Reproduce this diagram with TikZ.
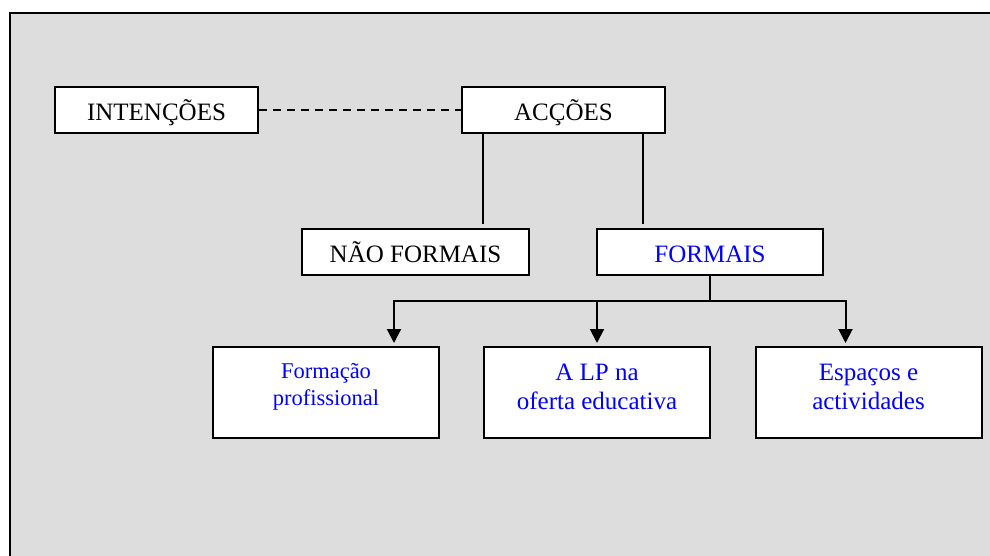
\documentclass[tikz,border=0pt]{standalone}
\usepackage{fontspec}
\setmainfont{Liberation Serif}
\usetikzlibrary{arrows.meta}
\definecolor{bggray}{HTML}{DDDDDD}
\definecolor{txtblue}{HTML}{0000FF}
\begin{document}
\begin{tikzpicture}[x=1pt,y=-1pt,
  box/.style={draw=black,line width=2pt,fill=white,inner sep=0pt,align=center},
  toprow/.style={box,minimum width=#1,minimum height=46pt,text height=21pt,text depth=0pt,
    font=\fontsize{25}{29}\selectfont},
  lowbox/.style={box,minimum width=226pt,minimum height=91pt,text=txtblue},
  link/.style={line width=2pt},
  arr/.style={line width=2pt,-{Triangle[length=14pt,width=14pt]},shorten >=3pt}]
\useasboundingbox (0,0) rectangle (990,555);
\path[fill=bggray,draw=black,line width=2pt] (10,12.5) rectangle (1005,570);

\node[toprow=203pt] (int) at (156.5,110) {INTENÇÕES};
\node[toprow=203pt] (acc) at (563.5,110) {ACÇÕES};
\node[toprow=227pt] (nf) at (415.5,252) {NÃO FORMAIS};
\node[toprow=226pt,text=txtblue] (f) at (710,252) {FORMAIS};

\node[lowbox,font=\fontsize{22.5}{27}\selectfont] (fp) at (326,392.5)
  {Formação\\profissional\rule[-17pt]{0pt}{17pt}};
\node[lowbox,font=\fontsize{25}{29}\selectfont] (lp) at (597,392.5)
  {A LP na\\oferta educativa\rule[-10.6pt]{0pt}{10.6pt}};
\node[lowbox,font=\fontsize{25}{29}\selectfont] (ea) at (868.5,392.5)
  {Espaços e\\actividades\rule[-10.6pt]{0pt}{10.6pt}};

\draw[link,dash pattern=on 8pt off 6pt] (int.east) -- (acc.west);
\draw[link,shorten >=4pt] ([xshift=22pt]acc.south west) -- ([xshift=22pt]acc.south west |- nf.north);
\draw[link,shorten >=4pt] ([xshift=-23pt]acc.south east) -- ([xshift=-23pt]acc.south east |- f.north);

\draw[link] (f.south) -- ++(0,25) coordinate (j);
\draw[arr] (j) -| ([xshift=-46pt]fp.north east);
\draw[arr] (j) -| (lp.north);
\draw[arr] (j) -| ([xshift=91pt]ea.north west);
\end{tikzpicture}
\end{document}
